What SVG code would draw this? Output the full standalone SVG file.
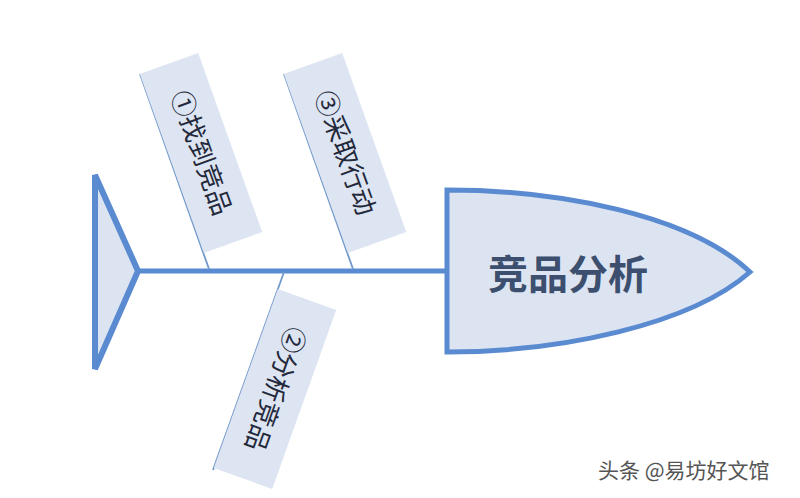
<svg xmlns="http://www.w3.org/2000/svg" width="800" height="498" viewBox="0 0 800 498">
<style>
.shape{fill:#DCE4F1;stroke:#5A8AD0;stroke-linejoin:miter}
.box{fill:#DDE5F2}
.bone{stroke:#7398CC;stroke-width:1.8;fill:none}
.lbl{font-family:"Liberation Sans","Noto Sans CJK SC",sans-serif;font-size:26px;fill:#23283A;text-anchor:middle;dominant-baseline:central}
.title{font-family:"Noto Sans CJK SC",sans-serif;font-weight:bold;font-size:40px;fill:#3D4F6E;text-anchor:middle;dominant-baseline:central}
.wm{font-family:"Noto Sans CJK SC",sans-serif;font-size:21px;fill:#555}
</style>
<rect width="800" height="498" fill="#fff"/>
<g id="connectors">
<line x1="138" y1="271" x2="449" y2="271" stroke="#5A8AD0" stroke-width="5"/>
<line class="bone" x1="140" y1="74" x2="209" y2="269"/>
<line class="bone" x1="284" y1="74" x2="353" y2="269"/>
<line class="bone" x1="284" y1="272" x2="213" y2="470"/>
</g>
<g id="tail">
<path class="shape" d="M95,175 L138,271 L95,369 Z" stroke-width="6"/>
</g>
<g id="head">
<path class="shape" d="M447,190 C560,190 690,215 750,272 C690,325 560,352 447,352 Z" stroke-width="5"/>
<text class="title" x="568" y="272">竞品分析</text>
</g>
<g id="bone1" transform="translate(201,153) rotate(70.3)">
<rect class="box" x="-95" y="-31" width="190" height="62"/>
<text class="lbl" x="0" y="0">①找到竞品</text>
</g>
<g id="bone3" transform="translate(345,153) rotate(70.3)">
<rect class="box" x="-95" y="-31" width="190" height="62"/>
<text class="lbl" x="0" y="0">③采取行动</text>
</g>
<g id="bone2" transform="translate(275,389) rotate(109.7)">
<rect class="box" x="-95" y="-31" width="190" height="62"/>
<text class="lbl" x="0" y="0">②分析竞品</text>
</g>
<text class="wm" x="598" y="478">头条 @易坊好文馆</text>
</svg>
